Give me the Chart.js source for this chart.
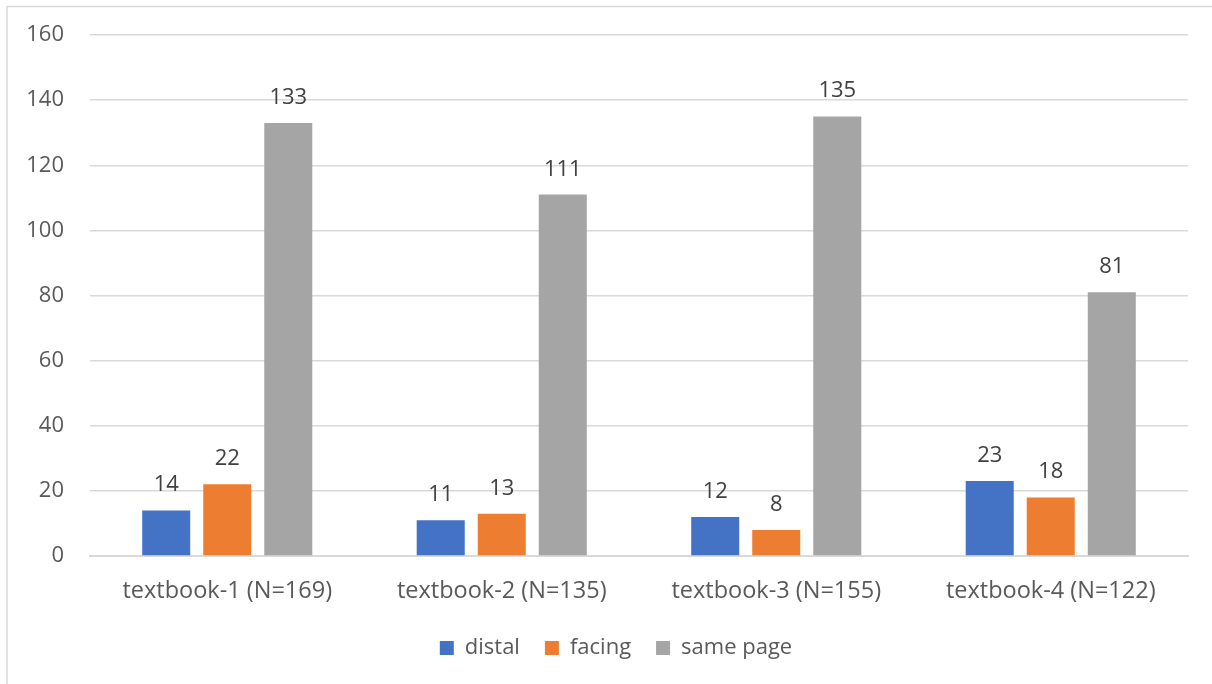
<!DOCTYPE html>
<html>
<head>
<meta charset="utf-8">
<script src="https://cdn.jsdelivr.net/npm/chart.js@4.4.1/dist/chart.umd.min.js"></script>
<style>
  html, body { margin: 0; padding: 0; background: #ffffff; }
  #wrap { width: 1212px; height: 684px; position: relative; }
</style>
</head>
<body>
<div id="wrap"><canvas id="chart" width="1212" height="684"></canvas></div>
<script>
// Category labels and counts per placement type
const categories = ['textbook-1 (N=169)', 'textbook-2 (N=135)', 'textbook-3 (N=155)', 'textbook-4 (N=122)'];
const distal = [14, 11, 12, 23];
const facing = [22, 13, 8, 18];
const samePage = [133, 111, 135, 81];
const yTicks = [0, 20, 40, 60, 80, 100, 120, 140, 160];

const FONT = '"Open Sans", "Noto Sans", sans-serif';
const FONT_SIZE = 22;
const TEXT = '#595959';

// Value labels above each bar
const valueLabels = {
  id: 'valueLabels',
  afterDatasetsDraw(chart) {
    const ctx = chart.ctx;
    ctx.save();
    ctx.font = FONT_SIZE + 'px ' + FONT;
    ctx.fillStyle = '#404040';
    ctx.textAlign = 'center';
    ctx.textBaseline = 'alphabetic';
    chart.data.datasets.forEach((ds, di) => {
      chart.getDatasetMeta(di).data.forEach((bar, i) => {
        ctx.fillText(String(ds.data[i]), bar.x, bar.y - 19);
      });
    });
    ctx.restore();
  }
};

// Thin frame along the top and left edges, plus legend offset
const frame = {
  id: 'frame',
  afterLayout(chart) {
    if (chart.legend) {
      chart.legend.left += 22;
      chart.legend.right += 22;
    }
  },
  beforeDraw(chart) {
    const ctx = chart.ctx;
    ctx.save();
    ctx.fillStyle = '#ffffff';
    ctx.fillRect(0, 0, chart.width, chart.height);
    ctx.strokeStyle = '#d9d9d9';
    ctx.lineWidth = 1.5;
    ctx.beginPath();
    ctx.moveTo(7, chart.height);
    ctx.lineTo(7, 6.5);
    ctx.lineTo(chart.width, 6.5);
    ctx.stroke();
    ctx.restore();
  }
};

new Chart(document.getElementById('chart'), {
  type: 'bar',
  data: {
    labels: categories,
    datasets: [
      { label: 'distal', data: distal, backgroundColor: '#4472C4' },
      { label: 'facing', data: facing, backgroundColor: '#ED7D31' },
      { label: 'same page', data: samePage, backgroundColor: '#A5A5A5' }
    ]
  },
  options: {
    responsive: false,
    animation: false,
    devicePixelRatio: 1,
    layout: { padding: { left: 0, right: 24, top: 35, bottom: 15 } },
    datasets: { bar: { categoryPercentage: 0.667, barPercentage: 0.787 } },
    plugins: {
      legend: {
        position: 'bottom',
        labels: {
          font: { family: FONT, size: FONT_SIZE },
          color: TEXT,
          boxWidth: 14,
          boxHeight: 14,
          padding: 25
        }
      },
      tooltip: { enabled: false }
    },
    scales: {
      x: {
        grid: { display: false, drawTicks: false },
        border: { display: true, color: '#d9d9d9', width: 2 },
        ticks: { color: TEXT, font: { family: FONT, size: 23.5 }, padding: 21 },
        afterFit(scale) { scale.height = 56; }
      },
      y: {
        min: 0,
        max: 160,
        afterBuildTicks(scale) { scale.ticks = yTicks.map(v => ({ value: v })); },
        grid: { color: '#d9d9d9', lineWidth: 1.5, drawTicks: false },
        border: { display: false },
        ticks: { color: TEXT, font: { family: FONT, size: FONT_SIZE }, padding: 26 },
        afterFit(scale) {
          scale.width = 90;
          scale.paddingTop = 14;
          scale.paddingBottom = 14;
        }
      }
    }
  },
  plugins: [frame, valueLabels]
});
</script>
</body>
</html>
